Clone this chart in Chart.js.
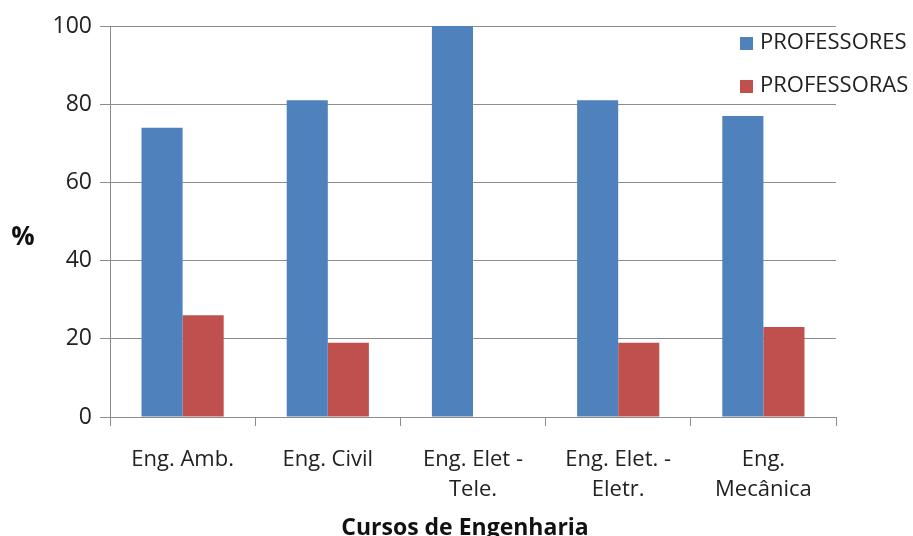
<!DOCTYPE html>
<html>
<head>
<meta charset="utf-8">
<script src="https://cdn.jsdelivr.net/npm/chart.js@4.4.0/dist/chart.umd.min.js"></script>
<style>
  html, body { margin: 0; padding: 0; background: #fff; }
  #wrap { width: 913px; height: 536px; }
</style>
</head>
<body>
<div id="wrap"><canvas id="chart" width="913" height="536"></canvas></div>
<script>
const cursos = ['Eng. Amb.', 'Eng. Civil', ['Eng. Elet -', 'Tele.'], ['Eng. Elet. -', 'Eletr.'], ['Eng.', 'Mecânica']];
const professores = [74, 81, 100, 81, 77];
const professoras = [26, 19, 0, 19, 23];
const yTicks = [0, 20, 40, 60, 80, 100];

const FONT = '"Open Sans", "Liberation Sans", sans-serif';
const gridColor = '#8c8c8c';

// legend inside the plot (top right) and the two axis titles
const extras = {
    id: 'extras',
    afterDraw(chart) {
        const ctx = chart.ctx;
        ctx.save();
        ctx.font = '22px ' + FONT;
        ctx.textBaseline = 'middle';
        ctx.textAlign = 'left';
        chart.data.datasets.forEach((ds, i) => {
            const y = 43 + i * 43;
            ctx.fillStyle = ds.backgroundColor;
            ctx.fillRect(740, y - 6, 13, 13);
            ctx.fillStyle = '#222';
            ctx.fillText(ds.label, 760, y);
        });
        ctx.fillStyle = '#111';
        ctx.textAlign = 'center';
        ctx.font = 'bold 26px ' + FONT;
        ctx.fillText('%', 23, 238);
        ctx.font = 'bold 23px ' + FONT;
        ctx.fillText('Cursos de Engenharia', 465, 528);
        ctx.restore();
    }
};

const ctx = document.getElementById('chart').getContext('2d');
new Chart(ctx, {
    type: 'bar',
    data: {
        labels: cursos,
        datasets: [
            { label: 'PROFESSORES', data: professores, backgroundColor: '#4F81BD' },
            { label: 'PROFESSORAS', data: professoras, backgroundColor: '#C0504D' }
        ]
    },
    options: {
        responsive: false,
        animation: false,
        layout: { padding: { top: 26, right: 77, left: 0, bottom: 0 } },
        datasets: { bar: { categoryPercentage: 0.566, barPercentage: 1 } },
        plugins: { legend: { display: false }, tooltip: { enabled: false } },
        scales: {
            x: {
                grid: { drawOnChartArea: false, color: gridColor, tickLength: 9, offset: true },
                border: { color: gridColor },
                ticks: { color: '#222', font: { family: FONT, size: 22, lineHeight: 1.36 }, padding: 19, maxRotation: 0, autoSkip: false },
                afterFit(scale) { scale.height = 119; }
            },
            y: {
                min: 0, max: 100,
                afterBuildTicks(scale) { scale.ticks = yTicks.map(v => ({ value: v })); },
                grid: { color: gridColor, tickLength: 10 },
                border: { color: gridColor },
                ticks: { color: '#222', font: { family: FONT, size: 23 }, padding: 8 },
                afterFit(scale) { scale.width = 110; }
            }
        }
    },
    plugins: [extras]
});
</script>
</body>
</html>
